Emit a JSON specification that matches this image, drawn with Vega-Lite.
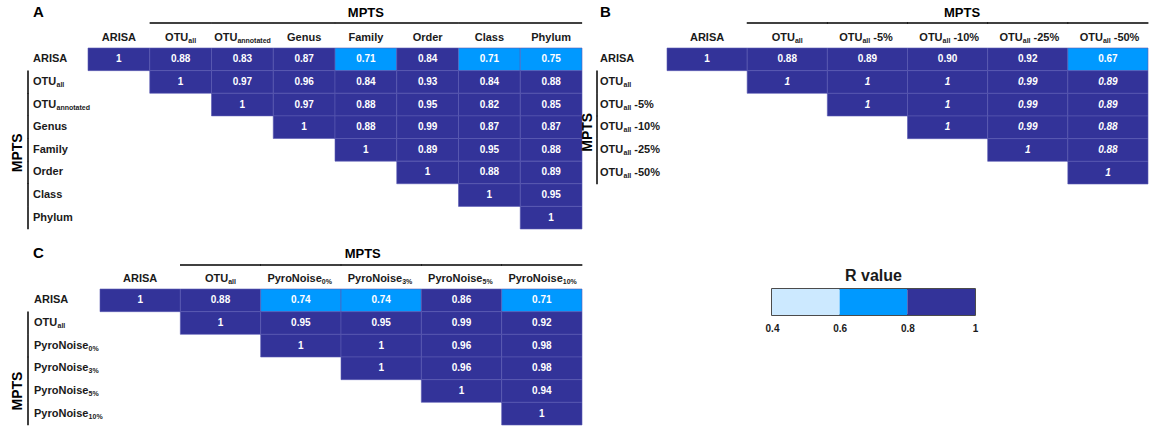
{
"$schema":"https://vega.github.io/schema/vega-lite/v6.json",
"padding":{"left":11,"top":5,"right":0,"bottom":0},
"bounds":"full",
"spacing":16,
"config":{"view":{"stroke":null},"font":"Liberation Sans"},
"datasets":{
"cells":[
{"p":"A","row":"ARISA","col":"ARISA","r":1},{"p":"A","row":"ARISA","col":"OTU_all","r":0.88},{"p":"A","row":"ARISA","col":"OTU_annotated","r":0.83},{"p":"A","row":"ARISA","col":"Genus","r":0.87},{"p":"A","row":"ARISA","col":"Family","r":0.71},{"p":"A","row":"ARISA","col":"Order","r":0.84},{"p":"A","row":"ARISA","col":"Class","r":0.71},{"p":"A","row":"ARISA","col":"Phylum","r":0.75},
{"p":"A","row":"OTU_all","col":"OTU_all","r":1},{"p":"A","row":"OTU_all","col":"OTU_annotated","r":0.97},{"p":"A","row":"OTU_all","col":"Genus","r":0.96},{"p":"A","row":"OTU_all","col":"Family","r":0.84},{"p":"A","row":"OTU_all","col":"Order","r":0.93},{"p":"A","row":"OTU_all","col":"Class","r":0.84},{"p":"A","row":"OTU_all","col":"Phylum","r":0.88},
{"p":"A","row":"OTU_annotated","col":"OTU_annotated","r":1},{"p":"A","row":"OTU_annotated","col":"Genus","r":0.97},{"p":"A","row":"OTU_annotated","col":"Family","r":0.88},{"p":"A","row":"OTU_annotated","col":"Order","r":0.95},{"p":"A","row":"OTU_annotated","col":"Class","r":0.82},{"p":"A","row":"OTU_annotated","col":"Phylum","r":0.85},
{"p":"A","row":"Genus","col":"Genus","r":1},{"p":"A","row":"Genus","col":"Family","r":0.88},{"p":"A","row":"Genus","col":"Order","r":0.99},{"p":"A","row":"Genus","col":"Class","r":0.87},{"p":"A","row":"Genus","col":"Phylum","r":0.87},
{"p":"A","row":"Family","col":"Family","r":1},{"p":"A","row":"Family","col":"Order","r":0.89},{"p":"A","row":"Family","col":"Class","r":0.95},{"p":"A","row":"Family","col":"Phylum","r":0.88},
{"p":"A","row":"Order","col":"Order","r":1},{"p":"A","row":"Order","col":"Class","r":0.88},{"p":"A","row":"Order","col":"Phylum","r":0.89},
{"p":"A","row":"Class","col":"Class","r":1},{"p":"A","row":"Class","col":"Phylum","r":0.95},
{"p":"A","row":"Phylum","col":"Phylum","r":1},
{"p":"B","row":"ARISA","col":"ARISA","r":1},{"p":"B","row":"ARISA","col":"OTU_all","r":0.88},{"p":"B","row":"ARISA","col":"OTU_all -5%","r":0.89},{"p":"B","row":"ARISA","col":"OTU_all -10%","r":0.90},{"p":"B","row":"ARISA","col":"OTU_all -25%","r":0.92},{"p":"B","row":"ARISA","col":"OTU_all -50%","r":0.67},
{"p":"B","row":"OTU_all","col":"OTU_all","r":1},{"p":"B","row":"OTU_all","col":"OTU_all -5%","r":1},{"p":"B","row":"OTU_all","col":"OTU_all -10%","r":1},{"p":"B","row":"OTU_all","col":"OTU_all -25%","r":0.99},{"p":"B","row":"OTU_all","col":"OTU_all -50%","r":0.89},
{"p":"B","row":"OTU_all -5%","col":"OTU_all -5%","r":1},{"p":"B","row":"OTU_all -5%","col":"OTU_all -10%","r":1},{"p":"B","row":"OTU_all -5%","col":"OTU_all -25%","r":0.99},{"p":"B","row":"OTU_all -5%","col":"OTU_all -50%","r":0.89},
{"p":"B","row":"OTU_all -10%","col":"OTU_all -10%","r":1},{"p":"B","row":"OTU_all -10%","col":"OTU_all -25%","r":0.99},{"p":"B","row":"OTU_all -10%","col":"OTU_all -50%","r":0.88},
{"p":"B","row":"OTU_all -25%","col":"OTU_all -25%","r":1},{"p":"B","row":"OTU_all -25%","col":"OTU_all -50%","r":0.88},
{"p":"B","row":"OTU_all -50%","col":"OTU_all -50%","r":1},
{"p":"C","row":"ARISA","col":"ARISA","r":1},{"p":"C","row":"ARISA","col":"OTU_all","r":0.88},{"p":"C","row":"ARISA","col":"PyroNoise_0%","r":0.74},{"p":"C","row":"ARISA","col":"PyroNoise_3%","r":0.74},{"p":"C","row":"ARISA","col":"PyroNoise_5%","r":0.86},{"p":"C","row":"ARISA","col":"PyroNoise_10%","r":0.71},
{"p":"C","row":"OTU_all","col":"OTU_all","r":1},{"p":"C","row":"OTU_all","col":"PyroNoise_0%","r":0.95},{"p":"C","row":"OTU_all","col":"PyroNoise_3%","r":0.95},{"p":"C","row":"OTU_all","col":"PyroNoise_5%","r":0.99},{"p":"C","row":"OTU_all","col":"PyroNoise_10%","r":0.92},
{"p":"C","row":"PyroNoise_0%","col":"PyroNoise_0%","r":1},{"p":"C","row":"PyroNoise_0%","col":"PyroNoise_3%","r":1},{"p":"C","row":"PyroNoise_0%","col":"PyroNoise_5%","r":0.96},{"p":"C","row":"PyroNoise_0%","col":"PyroNoise_10%","r":0.98},
{"p":"C","row":"PyroNoise_3%","col":"PyroNoise_3%","r":1},{"p":"C","row":"PyroNoise_3%","col":"PyroNoise_5%","r":0.96},{"p":"C","row":"PyroNoise_3%","col":"PyroNoise_10%","r":0.98},
{"p":"C","row":"PyroNoise_5%","col":"PyroNoise_5%","r":1},{"p":"C","row":"PyroNoise_5%","col":"PyroNoise_10%","r":0.94},
{"p":"C","row":"PyroNoise_10%","col":"PyroNoise_10%","r":1}
],
"labs":[
{"p":"A","key":"ARISA","base":"ARISA","sub":"","suf":""},{"p":"A","key":"OTU_all","base":"OTU","sub":"all","suf":""},{"p":"A","key":"OTU_annotated","base":"OTU","sub":"annotated","suf":""},{"p":"A","key":"Genus","base":"Genus","sub":"","suf":""},{"p":"A","key":"Family","base":"Family","sub":"","suf":""},{"p":"A","key":"Order","base":"Order","sub":"","suf":""},{"p":"A","key":"Class","base":"Class","sub":"","suf":""},{"p":"A","key":"Phylum","base":"Phylum","sub":"","suf":""},
{"p":"B","key":"ARISA","base":"ARISA","sub":"","suf":""},{"p":"B","key":"OTU_all","base":"OTU","sub":"all","suf":""},{"p":"B","key":"OTU_all -5%","base":"OTU","sub":"all","suf":"-5%"},{"p":"B","key":"OTU_all -10%","base":"OTU","sub":"all","suf":"-10%"},{"p":"B","key":"OTU_all -25%","base":"OTU","sub":"all","suf":"-25%"},{"p":"B","key":"OTU_all -50%","base":"OTU","sub":"all","suf":"-50%"},
{"p":"C","key":"ARISA","base":"ARISA","sub":"","suf":""},{"p":"C","key":"OTU_all","base":"OTU","sub":"all","suf":""},{"p":"C","key":"PyroNoise_0%","base":"PyroNoise","sub":"0%","suf":""},{"p":"C","key":"PyroNoise_3%","base":"PyroNoise","sub":"3%","suf":""},{"p":"C","key":"PyroNoise_5%","base":"PyroNoise","sub":"5%","suf":""},{"p":"C","key":"PyroNoise_10%","base":"PyroNoise","sub":"10%","suf":""}
],
"leg":[{"lo":0.4,"hi":0.6},{"lo":0.6,"hi":0.8},{"lo":0.8,"hi":1}]
},
"vconcat":[
{"hconcat":[
{"width":494,"height":181,"view":{"stroke":null},
"layer":[
{"data":{"name":"cells"},"transform":[{"filter":"datum.p==='A'"}],"mark":{"type":"rect","stroke":"#5b5bb3","strokeWidth":0.6},
"encoding":{"x":{"field":"col","type":"nominal","scale":{"type":"band","domain":["ARISA","OTU_all","OTU_annotated","Genus","Family","Order","Class","Phylum"],"paddingInner":0,"paddingOuter":0},"axis":null},"y":{"field":"row","type":"nominal","scale":{"type":"band","domain":["ARISA","OTU_all","OTU_annotated","Genus","Family","Order","Class","Phylum"],"paddingInner":0,"paddingOuter":0},"axis":null},"color":{"field":"r","type":"quantitative","scale":{"type":"threshold","domain":[0.6,0.8],"range":["#cce9ff","#0099ff","#333399"]},"legend":null}}},
{"data":{"name":"cells"},"transform":[{"filter":"datum.p==='A'"}],"mark":{"type":"text","fontSize":10,"fontWeight":"bold","color":"#ffffff"},
"encoding":{"x":{"field":"col","type":"nominal","scale":{"type":"band","domain":["ARISA","OTU_all","OTU_annotated","Genus","Family","Order","Class","Phylum"],"paddingInner":0,"paddingOuter":0},"axis":null},"y":{"field":"row","type":"nominal","scale":{"type":"band","domain":["ARISA","OTU_all","OTU_annotated","Genus","Family","Order","Class","Phylum"],"paddingInner":0,"paddingOuter":0},"axis":null},"text":{"condition":{"test":"datum.r===1","value":"1"},"field":"r","type":"quantitative","format":".2f"}}},
{"data":{"name":"labs"},"transform":[{"filter":"datum.p==='A' && datum.sub===''"}],"mark":{"type":"text","fontSize":11,"fontWeight":"bold","color":"#1a1a1a","dy":-10},
"encoding":{"x":{"field":"key","type":"nominal","scale":{"type":"band","domain":["ARISA","OTU_all","OTU_annotated","Genus","Family","Order","Class","Phylum"],"paddingInner":0,"paddingOuter":0},"axis":null},"y":{"datum":"ARISA","type":"nominal","bandPosition":0,"scale":{"type":"band","domain":["ARISA","OTU_all","OTU_annotated","Genus","Family","Order","Class","Phylum"],"paddingInner":0,"paddingOuter":0},"axis":null},"text":{"field":"base","type":"nominal"}}},
{"data":{"name":"labs"},"transform":[{"filter":"datum.p==='A' && datum.sub==='all'"}],"mark":{"type":"text","fontSize":11,"fontWeight":"bold","color":"#1a1a1a","dy":-10,"dx":7.7,"align":"right"},
"encoding":{"x":{"field":"key","type":"nominal","scale":{"type":"band","domain":["ARISA","OTU_all","OTU_annotated","Genus","Family","Order","Class","Phylum"],"paddingInner":0,"paddingOuter":0},"axis":null},"y":{"datum":"ARISA","type":"nominal","bandPosition":0,"scale":{"type":"band","domain":["ARISA","OTU_all","OTU_annotated","Genus","Family","Order","Class","Phylum"],"paddingInner":0,"paddingOuter":0},"axis":null},"text":{"field":"base","type":"nominal"}}},
{"data":{"name":"labs"},"transform":[{"filter":"datum.p==='A' && datum.sub==='all'"}],"mark":{"type":"text","fontSize":7,"fontWeight":"bold","color":"#1a1a1a","dy":-7,"dx":7.7,"align":"left"},
"encoding":{"x":{"field":"key","type":"nominal","scale":{"type":"band","domain":["ARISA","OTU_all","OTU_annotated","Genus","Family","Order","Class","Phylum"],"paddingInner":0,"paddingOuter":0},"axis":null},"y":{"datum":"ARISA","type":"nominal","bandPosition":0,"scale":{"type":"band","domain":["ARISA","OTU_all","OTU_annotated","Genus","Family","Order","Class","Phylum"],"paddingInner":0,"paddingOuter":0},"axis":null},"text":{"field":"sub","type":"nominal"}}},
{"data":{"name":"labs"},"transform":[{"filter":"datum.p==='A' && datum.sub==='annotated'"}],"mark":{"type":"text","fontSize":11,"fontWeight":"bold","color":"#1a1a1a","dy":-10,"dx":-5,"align":"right"},
"encoding":{"x":{"field":"key","type":"nominal","scale":{"type":"band","domain":["ARISA","OTU_all","OTU_annotated","Genus","Family","Order","Class","Phylum"],"paddingInner":0,"paddingOuter":0},"axis":null},"y":{"datum":"ARISA","type":"nominal","bandPosition":0,"scale":{"type":"band","domain":["ARISA","OTU_all","OTU_annotated","Genus","Family","Order","Class","Phylum"],"paddingInner":0,"paddingOuter":0},"axis":null},"text":{"field":"base","type":"nominal"}}},
{"data":{"name":"labs"},"transform":[{"filter":"datum.p==='A' && datum.sub==='annotated'"}],"mark":{"type":"text","fontSize":7,"fontWeight":"bold","color":"#1a1a1a","dy":-7,"dx":-5,"align":"left"},
"encoding":{"x":{"field":"key","type":"nominal","scale":{"type":"band","domain":["ARISA","OTU_all","OTU_annotated","Genus","Family","Order","Class","Phylum"],"paddingInner":0,"paddingOuter":0},"axis":null},"y":{"datum":"ARISA","type":"nominal","bandPosition":0,"scale":{"type":"band","domain":["ARISA","OTU_all","OTU_annotated","Genus","Family","Order","Class","Phylum"],"paddingInner":0,"paddingOuter":0},"axis":null},"text":{"field":"sub","type":"nominal"}}},
{"data":{"name":"labs"},"transform":[{"filter":"datum.p==='A'"}],"mark":{"type":"text","fontSize":11,"fontWeight":"bold","color":"#1a1a1a","dx":-55,"align":"left"},
"encoding":{"y":{"field":"key","type":"nominal","scale":{"type":"band","domain":["ARISA","OTU_all","OTU_annotated","Genus","Family","Order","Class","Phylum"],"paddingInner":0,"paddingOuter":0},"axis":null},"x":{"datum":"ARISA","type":"nominal","bandPosition":0,"scale":{"type":"band","domain":["ARISA","OTU_all","OTU_annotated","Genus","Family","Order","Class","Phylum"],"paddingInner":0,"paddingOuter":0},"axis":null},"text":{"field":"base","type":"nominal"}}},
{"data":{"name":"labs"},"transform":[{"filter":"datum.p==='A' && datum.sub!==''"}],"mark":{"type":"text","fontSize":7,"fontWeight":"bold","color":"#1a1a1a","dx":-31.5,"dy":3,"align":"left"},
"encoding":{"y":{"field":"key","type":"nominal","scale":{"type":"band","domain":["ARISA","OTU_all","OTU_annotated","Genus","Family","Order","Class","Phylum"],"paddingInner":0,"paddingOuter":0},"axis":null},"x":{"datum":"ARISA","type":"nominal","bandPosition":0,"scale":{"type":"band","domain":["ARISA","OTU_all","OTU_annotated","Genus","Family","Order","Class","Phylum"],"paddingInner":0,"paddingOuter":0},"axis":null},"text":{"field":"sub","type":"nominal"}}},
{"data":{"name":"labs"},"transform":[{"filter":"datum.p==='A' && datum.key!=='ARISA'"}],"mark":{"type":"tick","orient":"horizontal","size":62,"thickness":1.5,"color":"#000000","opacity":1,"yOffset":-25},
"encoding":{"x":{"field":"key","type":"nominal","scale":{"type":"band","domain":["ARISA","OTU_all","OTU_annotated","Genus","Family","Order","Class","Phylum"],"paddingInner":0,"paddingOuter":0},"axis":null},"y":{"datum":"ARISA","type":"nominal","bandPosition":0,"scale":{"type":"band","domain":["ARISA","OTU_all","OTU_annotated","Genus","Family","Order","Class","Phylum"],"paddingInner":0,"paddingOuter":0},"axis":null}}},
{"data":{"name":"labs"},"transform":[{"filter":"datum.p==='A' && datum.key!=='ARISA'"}],"mark":{"type":"tick","orient":"vertical","size":23,"thickness":1.5,"color":"#000000","opacity":1,"xOffset":-60},
"encoding":{"y":{"field":"key","type":"nominal","scale":{"type":"band","domain":["ARISA","OTU_all","OTU_annotated","Genus","Family","Order","Class","Phylum"],"paddingInner":0,"paddingOuter":0},"axis":null},"x":{"datum":"ARISA","type":"nominal","bandPosition":0,"scale":{"type":"band","domain":["ARISA","OTU_all","OTU_annotated","Genus","Family","Order","Class","Phylum"],"paddingInner":0,"paddingOuter":0},"axis":null}}},
{"data":{"values":[{"t":"MPTS"}]},"mark":{"type":"text","fontSize":13,"fontWeight":"bold","color":"#000000","dy":-35},
"encoding":{"x":{"datum":"Family","type":"nominal","scale":{"type":"band","domain":["ARISA","OTU_all","OTU_annotated","Genus","Family","Order","Class","Phylum"],"paddingInner":0,"paddingOuter":0},"axis":null},"y":{"datum":"ARISA","type":"nominal","bandPosition":0,"scale":{"type":"band","domain":["ARISA","OTU_all","OTU_annotated","Genus","Family","Order","Class","Phylum"],"paddingInner":0,"paddingOuter":0},"axis":null},"text":{"field":"t","type":"nominal"}}},
{"data":{"values":[{"t":"MPTS"}]},"mark":{"type":"text","fontSize":14,"fontWeight":"bold","color":"#000000","angle":270,"xOffset":-70,"yOffset":3},
"encoding":{"x":{"datum":"ARISA","type":"nominal","bandPosition":0,"scale":{"type":"band","domain":["ARISA","OTU_all","OTU_annotated","Genus","Family","Order","Class","Phylum"],"paddingInner":0,"paddingOuter":0},"axis":null},"y":{"datum":"Family","type":"nominal","scale":{"type":"band","domain":["ARISA","OTU_all","OTU_annotated","Genus","Family","Order","Class","Phylum"],"paddingInner":0,"paddingOuter":0},"axis":null},"text":{"field":"t","type":"nominal"}}},
{"data":{"values":[{"t":"A"}]},"mark":{"type":"text","fontSize":15,"fontWeight":"bold","color":"#000000","align":"left","dx":-55,"dy":-36},
"encoding":{"x":{"datum":"ARISA","type":"nominal","bandPosition":0,"scale":{"type":"band","domain":["ARISA","OTU_all","OTU_annotated","Genus","Family","Order","Class","Phylum"],"paddingInner":0,"paddingOuter":0},"axis":null},"y":{"datum":"ARISA","type":"nominal","bandPosition":0,"scale":{"type":"band","domain":["ARISA","OTU_all","OTU_annotated","Genus","Family","Order","Class","Phylum"],"paddingInner":0,"paddingOuter":0},"axis":null},"text":{"field":"t","type":"nominal"}}}
]},
{"width":481,"height":136,"view":{"stroke":null},
"layer":[
{"data":{"name":"cells"},"transform":[{"filter":"datum.p==='B'"}],"mark":{"type":"rect","stroke":"#5b5bb3","strokeWidth":0.6},
"encoding":{"x":{"field":"col","type":"nominal","scale":{"type":"band","domain":["ARISA","OTU_all","OTU_all -5%","OTU_all -10%","OTU_all -25%","OTU_all -50%"],"paddingInner":0,"paddingOuter":0},"axis":null},"y":{"field":"row","type":"nominal","scale":{"type":"band","domain":["ARISA","OTU_all","OTU_all -5%","OTU_all -10%","OTU_all -25%","OTU_all -50%"],"paddingInner":0,"paddingOuter":0},"axis":null},"color":{"field":"r","type":"quantitative","scale":{"type":"threshold","domain":[0.6,0.8],"range":["#cce9ff","#0099ff","#333399"]},"legend":null}}},
{"data":{"name":"cells"},"transform":[{"filter":"datum.p==='B' && datum.row==='ARISA'"}],"mark":{"type":"text","fontSize":10,"fontWeight":"bold","color":"#ffffff"},
"encoding":{"x":{"field":"col","type":"nominal","scale":{"type":"band","domain":["ARISA","OTU_all","OTU_all -5%","OTU_all -10%","OTU_all -25%","OTU_all -50%"],"paddingInner":0,"paddingOuter":0},"axis":null},"y":{"field":"row","type":"nominal","scale":{"type":"band","domain":["ARISA","OTU_all","OTU_all -5%","OTU_all -10%","OTU_all -25%","OTU_all -50%"],"paddingInner":0,"paddingOuter":0},"axis":null},"text":{"condition":{"test":"datum.r===1","value":"1"},"field":"r","type":"quantitative","format":".2f"}}},
{"data":{"name":"cells"},"transform":[{"filter":"datum.p==='B' && datum.row!=='ARISA'"}],"mark":{"type":"text","fontSize":10,"fontWeight":"bold","fontStyle":"italic","color":"#ffffff"},
"encoding":{"x":{"field":"col","type":"nominal","scale":{"type":"band","domain":["ARISA","OTU_all","OTU_all -5%","OTU_all -10%","OTU_all -25%","OTU_all -50%"],"paddingInner":0,"paddingOuter":0},"axis":null},"y":{"field":"row","type":"nominal","scale":{"type":"band","domain":["ARISA","OTU_all","OTU_all -5%","OTU_all -10%","OTU_all -25%","OTU_all -50%"],"paddingInner":0,"paddingOuter":0},"axis":null},"text":{"condition":{"test":"datum.r===1","value":"1"},"field":"r","type":"quantitative","format":".2f"}}},
{"data":{"name":"labs"},"transform":[{"filter":"datum.p==='B' && datum.sub===''"}],"mark":{"type":"text","fontSize":11,"fontWeight":"bold","color":"#1a1a1a","dy":-10},
"encoding":{"x":{"field":"key","type":"nominal","scale":{"type":"band","domain":["ARISA","OTU_all","OTU_all -5%","OTU_all -10%","OTU_all -25%","OTU_all -50%"],"paddingInner":0,"paddingOuter":0},"axis":null},"y":{"datum":"ARISA","type":"nominal","bandPosition":0,"scale":{"type":"band","domain":["ARISA","OTU_all","OTU_all -5%","OTU_all -10%","OTU_all -25%","OTU_all -50%"],"paddingInner":0,"paddingOuter":0},"axis":null},"text":{"field":"base","type":"nominal"}}},
{"data":{"name":"labs"},"transform":[{"filter":"datum.p==='B' && datum.sub==='all' && datum.suf===''"}],"mark":{"type":"text","fontSize":11,"fontWeight":"bold","color":"#1a1a1a","dy":-10,"dx":7.7,"align":"right"},
"encoding":{"x":{"field":"key","type":"nominal","scale":{"type":"band","domain":["ARISA","OTU_all","OTU_all -5%","OTU_all -10%","OTU_all -25%","OTU_all -50%"],"paddingInner":0,"paddingOuter":0},"axis":null},"y":{"datum":"ARISA","type":"nominal","bandPosition":0,"scale":{"type":"band","domain":["ARISA","OTU_all","OTU_all -5%","OTU_all -10%","OTU_all -25%","OTU_all -50%"],"paddingInner":0,"paddingOuter":0},"axis":null},"text":{"field":"base","type":"nominal"}}},
{"data":{"name":"labs"},"transform":[{"filter":"datum.p==='B' && datum.sub==='all' && datum.suf===''"}],"mark":{"type":"text","fontSize":7,"fontWeight":"bold","color":"#1a1a1a","dy":-7,"dx":7.7,"align":"left"},
"encoding":{"x":{"field":"key","type":"nominal","scale":{"type":"band","domain":["ARISA","OTU_all","OTU_all -5%","OTU_all -10%","OTU_all -25%","OTU_all -50%"],"paddingInner":0,"paddingOuter":0},"axis":null},"y":{"datum":"ARISA","type":"nominal","bandPosition":0,"scale":{"type":"band","domain":["ARISA","OTU_all","OTU_all -5%","OTU_all -10%","OTU_all -25%","OTU_all -50%"],"paddingInner":0,"paddingOuter":0},"axis":null},"text":{"field":"sub","type":"nominal"}}},
{"data":{"name":"labs"},"transform":[{"filter":"datum.p==='B' && datum.suf!==''"}],"mark":{"type":"text","fontSize":11,"fontWeight":"bold","color":"#1a1a1a","dy":-10,"dx":-5,"align":"right"},
"encoding":{"x":{"field":"key","type":"nominal","scale":{"type":"band","domain":["ARISA","OTU_all","OTU_all -5%","OTU_all -10%","OTU_all -25%","OTU_all -50%"],"paddingInner":0,"paddingOuter":0},"axis":null},"y":{"datum":"ARISA","type":"nominal","bandPosition":0,"scale":{"type":"band","domain":["ARISA","OTU_all","OTU_all -5%","OTU_all -10%","OTU_all -25%","OTU_all -50%"],"paddingInner":0,"paddingOuter":0},"axis":null},"text":{"field":"base","type":"nominal"}}},
{"data":{"name":"labs"},"transform":[{"filter":"datum.p==='B' && datum.suf!==''"}],"mark":{"type":"text","fontSize":7,"fontWeight":"bold","color":"#1a1a1a","dy":-7,"dx":-5,"align":"left"},
"encoding":{"x":{"field":"key","type":"nominal","scale":{"type":"band","domain":["ARISA","OTU_all","OTU_all -5%","OTU_all -10%","OTU_all -25%","OTU_all -50%"],"paddingInner":0,"paddingOuter":0},"axis":null},"y":{"datum":"ARISA","type":"nominal","bandPosition":0,"scale":{"type":"band","domain":["ARISA","OTU_all","OTU_all -5%","OTU_all -10%","OTU_all -25%","OTU_all -50%"],"paddingInner":0,"paddingOuter":0},"axis":null},"text":{"field":"sub","type":"nominal"}}},
{"data":{"name":"labs"},"transform":[{"filter":"datum.p==='B' && datum.suf!==''"}],"mark":{"type":"text","fontSize":11,"fontWeight":"bold","color":"#1a1a1a","dy":-10,"dx":5.8,"align":"left"},
"encoding":{"x":{"field":"key","type":"nominal","scale":{"type":"band","domain":["ARISA","OTU_all","OTU_all -5%","OTU_all -10%","OTU_all -25%","OTU_all -50%"],"paddingInner":0,"paddingOuter":0},"axis":null},"y":{"datum":"ARISA","type":"nominal","bandPosition":0,"scale":{"type":"band","domain":["ARISA","OTU_all","OTU_all -5%","OTU_all -10%","OTU_all -25%","OTU_all -50%"],"paddingInner":0,"paddingOuter":0},"axis":null},"text":{"field":"suf","type":"nominal"}}},
{"data":{"name":"labs"},"transform":[{"filter":"datum.p==='B'"}],"mark":{"type":"text","fontSize":11,"fontWeight":"bold","color":"#1a1a1a","dx":-67,"align":"left"},
"encoding":{"y":{"field":"key","type":"nominal","scale":{"type":"band","domain":["ARISA","OTU_all","OTU_all -5%","OTU_all -10%","OTU_all -25%","OTU_all -50%"],"paddingInner":0,"paddingOuter":0},"axis":null},"x":{"datum":"ARISA","type":"nominal","bandPosition":0,"scale":{"type":"band","domain":["ARISA","OTU_all","OTU_all -5%","OTU_all -10%","OTU_all -25%","OTU_all -50%"],"paddingInner":0,"paddingOuter":0},"axis":null},"text":{"field":"base","type":"nominal"}}},
{"data":{"name":"labs"},"transform":[{"filter":"datum.p==='B' && datum.sub!==''"}],"mark":{"type":"text","fontSize":7,"fontWeight":"bold","color":"#1a1a1a","dx":-43.5,"dy":3,"align":"left"},
"encoding":{"y":{"field":"key","type":"nominal","scale":{"type":"band","domain":["ARISA","OTU_all","OTU_all -5%","OTU_all -10%","OTU_all -25%","OTU_all -50%"],"paddingInner":0,"paddingOuter":0},"axis":null},"x":{"datum":"ARISA","type":"nominal","bandPosition":0,"scale":{"type":"band","domain":["ARISA","OTU_all","OTU_all -5%","OTU_all -10%","OTU_all -25%","OTU_all -50%"],"paddingInner":0,"paddingOuter":0},"axis":null},"text":{"field":"sub","type":"nominal"}}},
{"data":{"name":"labs"},"transform":[{"filter":"datum.p==='B' && datum.suf!==''"}],"mark":{"type":"text","fontSize":11,"fontWeight":"bold","color":"#1a1a1a","dx":-32.7,"align":"left"},
"encoding":{"y":{"field":"key","type":"nominal","scale":{"type":"band","domain":["ARISA","OTU_all","OTU_all -5%","OTU_all -10%","OTU_all -25%","OTU_all -50%"],"paddingInner":0,"paddingOuter":0},"axis":null},"x":{"datum":"ARISA","type":"nominal","bandPosition":0,"scale":{"type":"band","domain":["ARISA","OTU_all","OTU_all -5%","OTU_all -10%","OTU_all -25%","OTU_all -50%"],"paddingInner":0,"paddingOuter":0},"axis":null},"text":{"field":"suf","type":"nominal"}}},
{"data":{"name":"labs"},"transform":[{"filter":"datum.p==='B' && datum.key!=='ARISA'"}],"mark":{"type":"tick","orient":"horizontal","size":81,"thickness":1.5,"color":"#000000","opacity":1,"yOffset":-25},
"encoding":{"x":{"field":"key","type":"nominal","scale":{"type":"band","domain":["ARISA","OTU_all","OTU_all -5%","OTU_all -10%","OTU_all -25%","OTU_all -50%"],"paddingInner":0,"paddingOuter":0},"axis":null},"y":{"datum":"ARISA","type":"nominal","bandPosition":0,"scale":{"type":"band","domain":["ARISA","OTU_all","OTU_all -5%","OTU_all -10%","OTU_all -25%","OTU_all -50%"],"paddingInner":0,"paddingOuter":0},"axis":null}}},
{"data":{"name":"labs"},"transform":[{"filter":"datum.p==='B' && datum.key!=='ARISA'"}],"mark":{"type":"tick","orient":"vertical","size":23,"thickness":1.5,"color":"#000000","opacity":1,"xOffset":-70},
"encoding":{"y":{"field":"key","type":"nominal","scale":{"type":"band","domain":["ARISA","OTU_all","OTU_all -5%","OTU_all -10%","OTU_all -25%","OTU_all -50%"],"paddingInner":0,"paddingOuter":0},"axis":null},"x":{"datum":"ARISA","type":"nominal","bandPosition":0,"scale":{"type":"band","domain":["ARISA","OTU_all","OTU_all -5%","OTU_all -10%","OTU_all -25%","OTU_all -50%"],"paddingInner":0,"paddingOuter":0},"axis":null}}},
{"data":{"values":[{"t":"MPTS"}]},"mark":{"type":"text","fontSize":13,"fontWeight":"bold","color":"#000000","dy":-35},
"encoding":{"x":{"datum":"OTU_all -10%","type":"nominal","bandPosition":0.68,"scale":{"type":"band","domain":["ARISA","OTU_all","OTU_all -5%","OTU_all -10%","OTU_all -25%","OTU_all -50%"],"paddingInner":0,"paddingOuter":0},"axis":null},"y":{"datum":"ARISA","type":"nominal","bandPosition":0,"scale":{"type":"band","domain":["ARISA","OTU_all","OTU_all -5%","OTU_all -10%","OTU_all -25%","OTU_all -50%"],"paddingInner":0,"paddingOuter":0},"axis":null},"text":{"field":"t","type":"nominal"}}},
{"data":{"values":[{"t":"MPTS"}]},"mark":{"type":"text","fontSize":14,"fontWeight":"bold","color":"#000000","angle":270,"xOffset":-79,"yOffset":5},
"encoding":{"x":{"datum":"ARISA","type":"nominal","bandPosition":0,"scale":{"type":"band","domain":["ARISA","OTU_all","OTU_all -5%","OTU_all -10%","OTU_all -25%","OTU_all -50%"],"paddingInner":0,"paddingOuter":0},"axis":null},"y":{"datum":"OTU_all -10%","type":"nominal","scale":{"type":"band","domain":["ARISA","OTU_all","OTU_all -5%","OTU_all -10%","OTU_all -25%","OTU_all -50%"],"paddingInner":0,"paddingOuter":0},"axis":null},"text":{"field":"t","type":"nominal"}}},
{"data":{"values":[{"t":"B"}]},"mark":{"type":"text","fontSize":15,"fontWeight":"bold","color":"#000000","align":"left","dx":-67,"dy":-36},
"encoding":{"x":{"datum":"ARISA","type":"nominal","bandPosition":0,"scale":{"type":"band","domain":["ARISA","OTU_all","OTU_all -5%","OTU_all -10%","OTU_all -25%","OTU_all -50%"],"paddingInner":0,"paddingOuter":0},"axis":null},"y":{"datum":"ARISA","type":"nominal","bandPosition":0,"scale":{"type":"band","domain":["ARISA","OTU_all","OTU_all -5%","OTU_all -10%","OTU_all -25%","OTU_all -50%"],"paddingInner":0,"paddingOuter":0},"axis":null},"text":{"field":"t","type":"nominal"}}}
]}
],"spacing":85,"bounds":"flush"},
{"hconcat":[
{"width":494,"height":136,"view":{"stroke":null},
"layer":[
{"data":{"name":"cells"},"transform":[{"filter":"datum.p==='C'"}],"mark":{"type":"rect","stroke":"#5b5bb3","strokeWidth":0.6},
"encoding":{"x":{"field":"col","type":"nominal","scale":{"type":"band","domain":["ARISA","OTU_all","PyroNoise_0%","PyroNoise_3%","PyroNoise_5%","PyroNoise_10%"],"paddingInner":0,"paddingOuter":0.0747,"align":1},"axis":null},"y":{"field":"row","type":"nominal","scale":{"type":"band","domain":["ARISA","OTU_all","PyroNoise_0%","PyroNoise_3%","PyroNoise_5%","PyroNoise_10%"],"paddingInner":0,"paddingOuter":0},"axis":null},"color":{"field":"r","type":"quantitative","scale":{"type":"threshold","domain":[0.6,0.8],"range":["#cce9ff","#0099ff","#333399"]},"legend":null}}},
{"data":{"name":"cells"},"transform":[{"filter":"datum.p==='C'"}],"mark":{"type":"text","fontSize":10,"fontWeight":"bold","color":"#ffffff"},
"encoding":{"x":{"field":"col","type":"nominal","scale":{"type":"band","domain":["ARISA","OTU_all","PyroNoise_0%","PyroNoise_3%","PyroNoise_5%","PyroNoise_10%"],"paddingInner":0,"paddingOuter":0.0747,"align":1},"axis":null},"y":{"field":"row","type":"nominal","scale":{"type":"band","domain":["ARISA","OTU_all","PyroNoise_0%","PyroNoise_3%","PyroNoise_5%","PyroNoise_10%"],"paddingInner":0,"paddingOuter":0},"axis":null},"text":{"condition":{"test":"datum.r===1","value":"1"},"field":"r","type":"quantitative","format":".2f"}}},
{"data":{"name":"labs"},"transform":[{"filter":"datum.p==='C' && datum.sub===''"}],"mark":{"type":"text","fontSize":11,"fontWeight":"bold","color":"#1a1a1a","dy":-10},
"encoding":{"x":{"field":"key","type":"nominal","scale":{"type":"band","domain":["ARISA","OTU_all","PyroNoise_0%","PyroNoise_3%","PyroNoise_5%","PyroNoise_10%"],"paddingInner":0,"paddingOuter":0.0747,"align":1},"axis":null},"y":{"datum":"ARISA","type":"nominal","bandPosition":0,"scale":{"type":"band","domain":["ARISA","OTU_all","PyroNoise_0%","PyroNoise_3%","PyroNoise_5%","PyroNoise_10%"],"paddingInner":0,"paddingOuter":0},"axis":null},"text":{"field":"base","type":"nominal"}}},
{"data":{"name":"labs"},"transform":[{"filter":"datum.p==='C' && datum.base==='OTU'"}],"mark":{"type":"text","fontSize":11,"fontWeight":"bold","color":"#1a1a1a","dy":-10,"dx":7.7,"align":"right"},
"encoding":{"x":{"field":"key","type":"nominal","scale":{"type":"band","domain":["ARISA","OTU_all","PyroNoise_0%","PyroNoise_3%","PyroNoise_5%","PyroNoise_10%"],"paddingInner":0,"paddingOuter":0.0747,"align":1},"axis":null},"y":{"datum":"ARISA","type":"nominal","bandPosition":0,"scale":{"type":"band","domain":["ARISA","OTU_all","PyroNoise_0%","PyroNoise_3%","PyroNoise_5%","PyroNoise_10%"],"paddingInner":0,"paddingOuter":0},"axis":null},"text":{"field":"base","type":"nominal"}}},
{"data":{"name":"labs"},"transform":[{"filter":"datum.p==='C' && datum.base==='OTU'"}],"mark":{"type":"text","fontSize":7,"fontWeight":"bold","color":"#1a1a1a","dy":-7,"dx":7.7,"align":"left"},
"encoding":{"x":{"field":"key","type":"nominal","scale":{"type":"band","domain":["ARISA","OTU_all","PyroNoise_0%","PyroNoise_3%","PyroNoise_5%","PyroNoise_10%"],"paddingInner":0,"paddingOuter":0.0747,"align":1},"axis":null},"y":{"datum":"ARISA","type":"nominal","bandPosition":0,"scale":{"type":"band","domain":["ARISA","OTU_all","PyroNoise_0%","PyroNoise_3%","PyroNoise_5%","PyroNoise_10%"],"paddingInner":0,"paddingOuter":0},"axis":null},"text":{"field":"sub","type":"nominal"}}},
{"data":{"name":"labs"},"transform":[{"filter":"datum.p==='C' && datum.base==='PyroNoise'"}],"mark":{"type":"text","fontSize":11,"fontWeight":"bold","color":"#1a1a1a","dy":-10,"dx":21,"align":"right"},
"encoding":{"x":{"field":"key","type":"nominal","scale":{"type":"band","domain":["ARISA","OTU_all","PyroNoise_0%","PyroNoise_3%","PyroNoise_5%","PyroNoise_10%"],"paddingInner":0,"paddingOuter":0.0747,"align":1},"axis":null},"y":{"datum":"ARISA","type":"nominal","bandPosition":0,"scale":{"type":"band","domain":["ARISA","OTU_all","PyroNoise_0%","PyroNoise_3%","PyroNoise_5%","PyroNoise_10%"],"paddingInner":0,"paddingOuter":0},"axis":null},"text":{"field":"base","type":"nominal"}}},
{"data":{"name":"labs"},"transform":[{"filter":"datum.p==='C' && datum.base==='PyroNoise'"}],"mark":{"type":"text","fontSize":7,"fontWeight":"bold","color":"#1a1a1a","dy":-7,"dx":21,"align":"left"},
"encoding":{"x":{"field":"key","type":"nominal","scale":{"type":"band","domain":["ARISA","OTU_all","PyroNoise_0%","PyroNoise_3%","PyroNoise_5%","PyroNoise_10%"],"paddingInner":0,"paddingOuter":0.0747,"align":1},"axis":null},"y":{"datum":"ARISA","type":"nominal","bandPosition":0,"scale":{"type":"band","domain":["ARISA","OTU_all","PyroNoise_0%","PyroNoise_3%","PyroNoise_5%","PyroNoise_10%"],"paddingInner":0,"paddingOuter":0},"axis":null},"text":{"field":"sub","type":"nominal"}}},
{"data":{"name":"labs"},"transform":[{"filter":"datum.p==='C'"}],"mark":{"type":"text","fontSize":11,"fontWeight":"bold","color":"#1a1a1a","dx":-66,"align":"left"},
"encoding":{"y":{"field":"key","type":"nominal","scale":{"type":"band","domain":["ARISA","OTU_all","PyroNoise_0%","PyroNoise_3%","PyroNoise_5%","PyroNoise_10%"],"paddingInner":0,"paddingOuter":0},"axis":null},"x":{"datum":"ARISA","type":"nominal","bandPosition":0,"scale":{"type":"band","domain":["ARISA","OTU_all","PyroNoise_0%","PyroNoise_3%","PyroNoise_5%","PyroNoise_10%"],"paddingInner":0,"paddingOuter":0.0747,"align":1},"axis":null},"text":{"field":"base","type":"nominal"}}},
{"data":{"name":"labs"},"transform":[{"filter":"datum.p==='C' && datum.base==='OTU'"}],"mark":{"type":"text","fontSize":7,"fontWeight":"bold","color":"#1a1a1a","dx":-42.5,"dy":3,"align":"left"},
"encoding":{"y":{"field":"key","type":"nominal","scale":{"type":"band","domain":["ARISA","OTU_all","PyroNoise_0%","PyroNoise_3%","PyroNoise_5%","PyroNoise_10%"],"paddingInner":0,"paddingOuter":0},"axis":null},"x":{"datum":"ARISA","type":"nominal","bandPosition":0,"scale":{"type":"band","domain":["ARISA","OTU_all","PyroNoise_0%","PyroNoise_3%","PyroNoise_5%","PyroNoise_10%"],"paddingInner":0,"paddingOuter":0.0747,"align":1},"axis":null},"text":{"field":"sub","type":"nominal"}}},
{"data":{"name":"labs"},"transform":[{"filter":"datum.p==='C' && datum.base==='PyroNoise'"}],"mark":{"type":"text","fontSize":7,"fontWeight":"bold","color":"#1a1a1a","dx":-11.4,"dy":3,"align":"left"},
"encoding":{"y":{"field":"key","type":"nominal","scale":{"type":"band","domain":["ARISA","OTU_all","PyroNoise_0%","PyroNoise_3%","PyroNoise_5%","PyroNoise_10%"],"paddingInner":0,"paddingOuter":0},"axis":null},"x":{"datum":"ARISA","type":"nominal","bandPosition":0,"scale":{"type":"band","domain":["ARISA","OTU_all","PyroNoise_0%","PyroNoise_3%","PyroNoise_5%","PyroNoise_10%"],"paddingInner":0,"paddingOuter":0.0747,"align":1},"axis":null},"text":{"field":"sub","type":"nominal"}}},
{"data":{"name":"labs"},"transform":[{"filter":"datum.p==='C' && datum.key!=='ARISA'"}],"mark":{"type":"tick","orient":"horizontal","size":81,"thickness":1.5,"color":"#000000","opacity":1,"yOffset":-24},
"encoding":{"x":{"field":"key","type":"nominal","scale":{"type":"band","domain":["ARISA","OTU_all","PyroNoise_0%","PyroNoise_3%","PyroNoise_5%","PyroNoise_10%"],"paddingInner":0,"paddingOuter":0.0747,"align":1},"axis":null},"y":{"datum":"ARISA","type":"nominal","bandPosition":0,"scale":{"type":"band","domain":["ARISA","OTU_all","PyroNoise_0%","PyroNoise_3%","PyroNoise_5%","PyroNoise_10%"],"paddingInner":0,"paddingOuter":0},"axis":null}}},
{"data":{"name":"labs"},"transform":[{"filter":"datum.p==='C' && datum.key!=='ARISA'"}],"mark":{"type":"tick","orient":"vertical","size":23,"thickness":1.5,"color":"#000000","opacity":1,"xOffset":-72},
"encoding":{"y":{"field":"key","type":"nominal","scale":{"type":"band","domain":["ARISA","OTU_all","PyroNoise_0%","PyroNoise_3%","PyroNoise_5%","PyroNoise_10%"],"paddingInner":0,"paddingOuter":0},"axis":null},"x":{"datum":"ARISA","type":"nominal","bandPosition":0,"scale":{"type":"band","domain":["ARISA","OTU_all","PyroNoise_0%","PyroNoise_3%","PyroNoise_5%","PyroNoise_10%"],"paddingInner":0,"paddingOuter":0.0747,"align":1},"axis":null}}},
{"data":{"values":[{"t":"MPTS"}]},"mark":{"type":"text","fontSize":13,"fontWeight":"bold","color":"#000000","dy":-35},
"encoding":{"x":{"datum":"PyroNoise_3%","type":"nominal","bandPosition":0.27,"scale":{"type":"band","domain":["ARISA","OTU_all","PyroNoise_0%","PyroNoise_3%","PyroNoise_5%","PyroNoise_10%"],"paddingInner":0,"paddingOuter":0.0747,"align":1},"axis":null},"y":{"datum":"ARISA","type":"nominal","bandPosition":0,"scale":{"type":"band","domain":["ARISA","OTU_all","PyroNoise_0%","PyroNoise_3%","PyroNoise_5%","PyroNoise_10%"],"paddingInner":0,"paddingOuter":0},"axis":null},"text":{"field":"t","type":"nominal"}}},
{"data":{"values":[{"t":"MPTS"}]},"mark":{"type":"text","fontSize":14,"fontWeight":"bold","color":"#000000","angle":270,"xOffset":-82},
"encoding":{"x":{"datum":"ARISA","type":"nominal","bandPosition":0,"scale":{"type":"band","domain":["ARISA","OTU_all","PyroNoise_0%","PyroNoise_3%","PyroNoise_5%","PyroNoise_10%"],"paddingInner":0,"paddingOuter":0.0747,"align":1},"axis":null},"y":{"datum":"PyroNoise_5%","type":"nominal","scale":{"type":"band","domain":["ARISA","OTU_all","PyroNoise_0%","PyroNoise_3%","PyroNoise_5%","PyroNoise_10%"],"paddingInner":0,"paddingOuter":0},"axis":null},"text":{"field":"t","type":"nominal"}}},
{"data":{"values":[{"t":"C"}]},"mark":{"type":"text","fontSize":15,"fontWeight":"bold","color":"#000000","align":"left","dx":-67,"dy":-36},
"encoding":{"x":{"datum":"ARISA","type":"nominal","bandPosition":0,"scale":{"type":"band","domain":["ARISA","OTU_all","PyroNoise_0%","PyroNoise_3%","PyroNoise_5%","PyroNoise_10%"],"paddingInner":0,"paddingOuter":0.0747,"align":1},"axis":null},"y":{"datum":"ARISA","type":"nominal","bandPosition":0,"scale":{"type":"band","domain":["ARISA","OTU_all","PyroNoise_0%","PyroNoise_3%","PyroNoise_5%","PyroNoise_10%"],"paddingInner":0,"paddingOuter":0},"axis":null},"text":{"field":"t","type":"nominal"}}}
]},
{"width":203,"height":26,"view":{"stroke":"#111111","strokeWidth":1.5},
"title":{"text":"R value","fontSize":16,"fontWeight":"bold","offset":5,"anchor":"middle","color":"#1a1a1a"},
"data":{"name":"leg"},
"mark":{"type":"rect"},
"encoding":{
"x":{"field":"lo","type":"quantitative","scale":{"domain":[0.4,1],"nice":false,"zero":false},"axis":{"values":[0.4,0.6,0.8,1],"format":"~g","labelFontSize":10,"labelFontWeight":"bold","labelColor":"#1a1a1a","labelFlush":false,"ticks":false,"domain":false,"grid":false,"title":null,"labelPadding":8}},
"x2":{"field":"hi"},
"color":{"field":"lo","type":"quantitative","scale":{"type":"threshold","domain":[0.6,0.8],"range":["#cce9ff","#0099ff","#333399"]},"legend":null}}}
],"spacing":190,"bounds":"flush"}
]
}
